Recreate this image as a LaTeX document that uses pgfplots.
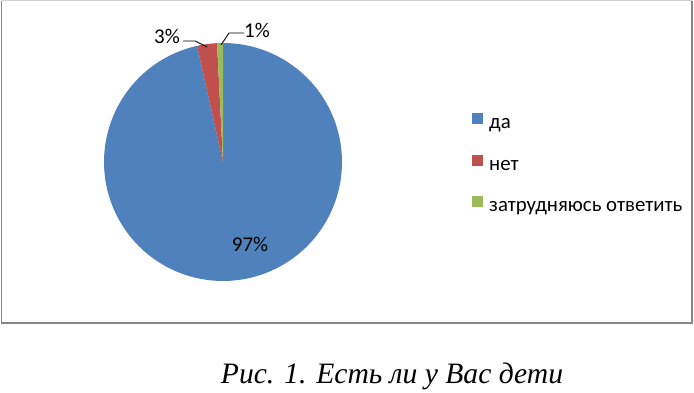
\documentclass[border=0pt]{standalone}
\usepackage{pgfplots}
\pgfplotsset{compat=1.18}
\usepackage{fontspec}
\setmainfont{Carlito}
\newfontfamily\capfont{Liberation Serif}
\definecolor{cda}{HTML}{4F81BD}
\definecolor{cnet}{HTML}{C0504D}
\definecolor{czat}{HTML}{9BBB59}
\definecolor{frame}{RGB}{134,134,134}
\begin{document}
\begin{tikzpicture}
\begin{axis}[
  x=1bp, y=1bp, y dir=reverse,
  xmin=0, xmax=694, ymin=0, ymax=389,
  hide axis, clip=false, scale only axis,
  legend style={at={(axis cs:472,113)}, anchor=north west, draw=none, fill=none,
    font=\fontsize{20.8bp}{24bp}\selectfont, row sep=22bp, inner sep=0pt,
    nodes={text height=14bp, text depth=4bp, inner sep=0pt},
    /tikz/every odd column/.append style={column sep=6bp}},
  legend cell align=left,
  legend image code/.code={\fill[#1] (0bp,-0.5bp) rectangle (11bp,10.5bp);},
]
% shares (percent): da 96.5, net 2.7, zatrudnyayus 0.8 -> angles clockwise from 90 deg
\addplot[fill=cda, draw=none, domain=-257.4:90, samples=200, variable=\t]
  ({223+119*cos(t)},{162-119*sin(t)}) -- (axis cs:223,162) -- cycle;
\addlegendentry{да}
\addplot[fill=cnet, draw=none, domain=-267.12:-257.4, samples=20, variable=\t]
  ({223+119*cos(t)},{162-119*sin(t)}) -- (axis cs:223,162) -- cycle;
\addlegendentry{нет}
\addplot[fill=czat, draw=none, domain=-270:-267.12, samples=10, variable=\t]
  ({223+119*cos(t)},{162-119*sin(t)}) -- (axis cs:223,162) -- cycle;
\addlegendentry{затрудняюсь ответить}

\path (axis cs:0,0) rectangle (axis cs:694,389);
\draw[frame!40, line width=1bp] (axis cs:1.5,1) -- (axis cs:692,1);
\draw[frame, line width=1.5bp] (axis cs:692,1) -- (axis cs:692,323) -- (axis cs:1.5,323) -- (axis cs:1.5,1);

\draw[black, line width=0.9bp] (axis cs:183,41) -- (axis cs:195,41) -- (axis cs:207,47);
\draw[black, line width=0.9bp] (axis cs:244,33) -- (axis cs:229,33) -- (axis cs:221,45);
\node[font=\fontsize{21bp}{24bp}\selectfont] at (axis cs:167,36) {3\%};
\node[font=\fontsize{21bp}{24bp}\selectfont] at (axis cs:257,30) {1\%};
\node[font=\fontsize{21bp}{24bp}\selectfont] at (axis cs:250,244) {97\%};

\node[font=\capfont\itshape\fontsize{29.6bp}{34bp}\selectfont, anchor=base] at (axis cs:392,383) {Рис. 1. Есть ли у Вас дети};
\end{axis}
\end{tikzpicture}
\end{document}
